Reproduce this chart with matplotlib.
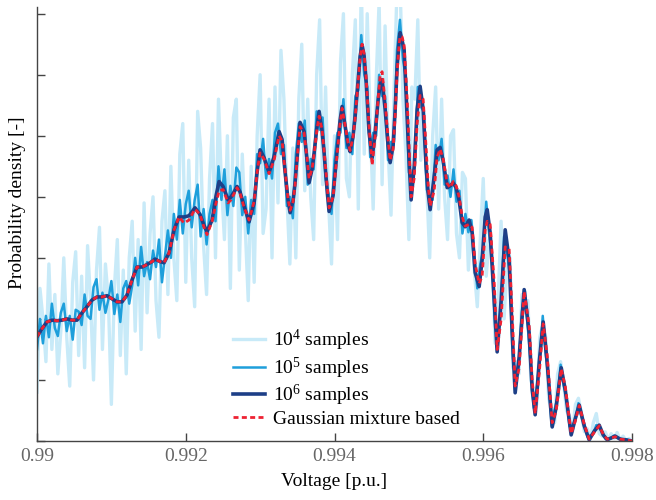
import matplotlib
matplotlib.use("Agg")
import matplotlib.pyplot as plt
import numpy as np

plt.rcParams['font.family'] = ['Liberation Serif', 'DejaVu Serif']
plt.rcParams['mathtext.fontset'] = 'custom'
plt.rcParams['mathtext.rm'] = 'Liberation Serif'

# voltage grid of the sampled histograms
volt_grid = np.linspace(0.99, 0.998, 201)

# 10^4 samples
dens_1e4 = [80, 250, 200, 130, 290, 150, 240, 110, 180, 300,
            170, 90, 260, 310, 140, 270, 120, 320, 230, 100,
            280, 350, 150, 290, 230, 60, 250, 330, 140, 280,
            110, 300, 360, 180, 330, 150, 390, 210, 340, 400,
            230, 170, 360, 410, 240, 450, 300, 230, 470, 520,
            260, 460, 300, 220, 540, 480, 320, 240, 430, 520,
            300, 560, 420, 330, 500, 250, 530, 560, 280, 470,
            350, 230, 450, 260, 500, 600, 340, 380, 560, 300,
            580, 390, 640, 560, 400, 290, 480, 300, 560, 650,
            410, 560, 400, 330, 600, 690, 420, 580, 390, 290,
            500, 330, 620, 700, 430, 400, 600, 690, 380, 760,
            470, 700, 520, 380, 590, 720, 420, 680, 480, 370,
            570, 740, 760, 560, 470, 330, 580, 560, 690, 460,
            540, 420, 300, 500, 580, 380, 560, 400, 330, 500,
            510, 340, 300, 440, 430, 280, 360, 280, 220, 330,
            430, 270, 330, 300, 160, 230, 360, 200, 290, 300,
            120, 130, 110, 240, 210, 230, 100, 80, 60, 170,
            190, 170, 70, 45, 30, 110, 130, 95, 50, 40,
            15, 60, 70, 45, 15, 20, 3, 30, 45, 12,
            8, 15, 2, 12, 4, 14, 2, 8, 1, 4,
            0]

# 10^5 samples
dens_1e5 = [150, 200, 160, 205, 170, 225, 185, 172, 210, 225,
            180, 205, 166, 215, 212, 190, 240, 205, 200, 252,
            265, 215, 243, 210, 232, 262, 208, 240, 195, 250,
            262, 225, 255, 300, 255, 318, 270, 293, 265, 312,
            285, 330, 260, 302, 345, 300, 372, 330, 395, 340,
            388, 410, 350, 395, 420, 335, 380, 322, 372, 395,
            360, 450, 395, 445, 370, 418, 385, 448, 440, 370,
            400, 340, 395, 372, 470, 455, 495, 430, 462, 430,
            505, 520, 470, 485, 385, 400, 365, 470, 520, 490,
            525, 420, 462, 445, 540, 510, 530, 430, 405, 372,
            460, 505, 505, 560, 480, 505, 470, 565, 575, 665,
            600, 580, 465, 505, 500, 600, 565, 565, 460, 490,
            490, 640, 690, 625, 595, 440, 430, 450, 580, 548,
            540, 412, 400, 395, 485, 460, 495, 420, 435, 400,
            445, 392, 410, 340, 372, 342, 362, 305, 250, 290,
            312, 392, 338, 295, 185, 178, 222, 335, 308, 270,
            135, 102, 130, 212, 246, 185, 124, 54, 88, 135,
            205, 143, 98, 25, 52, 72, 125, 92, 70, 24,
            25, 35, 62, 40, 27, 7, 9, 12, 26, 22,
            15, 4, 4, 4, 9, 5, 4, 2, 3, 1,
            0]

# 10^6 samples and Gaussian mixture, smooth curves
volt_smooth = [0.990000, 0.990067, 0.990134, 0.990202, 0.990269, 0.990336, 0.990403, 0.990471, 0.990538, 0.990605,
               0.990672, 0.990740, 0.990807, 0.990874, 0.990941, 0.991009, 0.991076, 0.991143, 0.991210, 0.991278,
               0.991345, 0.991412, 0.991479, 0.991547, 0.991587, 0.991654, 0.991708, 0.991775, 0.991843, 0.991910,
               0.991977, 0.992044, 0.992125, 0.992192, 0.992246, 0.992286, 0.992354, 0.992408, 0.992448, 0.992502,
               0.992569, 0.992609, 0.992650, 0.992690, 0.992730, 0.992784, 0.992851, 0.992919, 0.992959, 0.992999,
               0.993053, 0.993120, 0.993188, 0.993255, 0.993295, 0.993336, 0.993376, 0.993403, 0.993443, 0.993470,
               0.993510, 0.993537, 0.993591, 0.993632, 0.993658, 0.993699, 0.993726, 0.993766, 0.993793, 0.993833,
               0.993860, 0.993901, 0.993927, 0.993981, 0.994035, 0.994075, 0.994102, 0.994143, 0.994183, 0.994210,
               0.994250, 0.994277, 0.994317, 0.994344, 0.994371, 0.994398, 0.994425, 0.994465, 0.994506, 0.994546,
               0.994586, 0.994613, 0.994640, 0.994681, 0.994721, 0.994748, 0.994788, 0.994815, 0.994842, 0.994869,
               0.994882, 0.994909, 0.994936, 0.994977, 0.995003, 0.995030, 0.995071, 0.995111, 0.995151, 0.995192,
               0.995232, 0.995259, 0.995286, 0.995340, 0.995380, 0.995420, 0.995461, 0.995515, 0.995555, 0.995595,
               0.995636, 0.995676, 0.995716, 0.995757, 0.995810, 0.995851, 0.995891, 0.995945, 0.995985, 0.996026,
               0.996053, 0.996093, 0.996147, 0.996187, 0.996241, 0.996295, 0.996348, 0.996389, 0.996429, 0.996483,
               0.996550, 0.996617, 0.996658, 0.996698, 0.996752, 0.996806, 0.996860, 0.996927, 0.996981, 0.997048,
               0.997102, 0.997182, 0.997236, 0.997290, 0.997357, 0.997424, 0.997492, 0.997559, 0.997613, 0.997666,
               0.997720, 0.997774, 0.997841, 0.997909, 0.998000]

dens_1e6 = [171, 184, 195, 198, 197, 198, 200, 198, 198, 210,
            220, 231, 236, 236, 238, 233, 228, 228, 239, 264,
            285, 285, 289, 294, 298, 294, 292, 308, 346, 367,
            367, 369, 382, 371, 353, 343, 362, 402, 425, 417,
            395, 400, 408, 417, 408, 385, 359, 390, 440, 477,
            464, 440, 466, 507, 494, 440, 394, 374, 394, 423,
            484, 522, 507, 459, 423, 446, 472, 517, 540, 508,
            472, 410, 376, 402, 476, 525, 548, 515, 484, 474,
            500, 531, 590, 630, 649, 631, 590, 505, 464, 505,
            558, 584, 592, 543, 484, 456, 484, 541, 613, 656,
            669, 656, 641, 531, 459, 395, 449, 543, 581, 543,
            449, 407, 379, 433, 477, 481, 459, 415, 418, 423,
            415, 394, 358, 351, 362, 341, 276, 253, 297, 367,
            379, 341, 231, 146, 231, 346, 297, 177, 79, 138,
            248, 177, 84, 43, 128, 195, 128, 23, 56, 120,
            84, 10, 36, 59, 25, 2, 16, 26, 10, 2,
            5, 8, 3, 2, 0]

dens_gmm = [171, 184, 195, 198, 197, 198, 200, 198, 198, 210,
            220, 231, 236, 236, 238, 233, 228, 228, 239, 264,
            285, 285, 289, 294, 298, 294, 292, 308, 346, 367,
            357, 362, 380, 371, 350, 338, 360, 390, 410, 412,
            390, 395, 405, 415, 406, 383, 362, 392, 440, 472,
            462, 438, 460, 500, 492, 442, 396, 378, 392, 420,
            480, 515, 505, 462, 430, 446, 470, 512, 532, 510,
            476, 418, 382, 400, 470, 520, 545, 517, 488, 476,
            498, 528, 588, 628, 650, 634, 596, 515, 452, 498,
            560, 598, 605, 556, 494, 460, 478, 532, 605, 650,
            663, 662, 648, 560, 480, 400, 430, 520, 566, 560,
            480, 420, 385, 410, 465, 478, 462, 422, 415, 425,
            418, 400, 368, 352, 355, 350, 290, 258, 270, 345,
            360, 355, 260, 150, 200, 318, 315, 210, 90, 120,
            245, 190, 100, 45, 110, 192, 140, 30, 50, 118,
            90, 12, 32, 58, 28, 3, 14, 25, 11, 3,
            5, 7, 3, 2, 0]

labels = [r'$\mathregular{10^4}$ samples', r'$\mathregular{10^5}$ samples',
          r'$\mathregular{10^6}$ samples', 'Gaussian mixture based']

fig = plt.figure(figsize=(6.56, 5.0), dpi=100)
ax = fig.add_axes([37 / 656, 1 - 441 / 500, 595 / 656, 434 / 500])

ax.plot(volt_grid, dens_1e4, color='#c8eaf8', lw=2.4, label=labels[0])
ax.plot(volt_grid, dens_1e5, color='#1e9fdb', lw=1.8, label=labels[1])
ax.plot(volt_smooth, dens_1e6, color='#1d3f87', lw=2.6, label=labels[2])
ax.plot(volt_smooth, dens_gmm, color='#ee2233', lw=2.0, dashes=(1.8, 1.2), label=labels[3])

ax.set_xlim(0.99, 0.998)
ax.set_ylim(0, 711)
ax.set_xticks([0.99, 0.992, 0.994, 0.996, 0.998])
ax.set_xticklabels(['0.99', '0.992', '0.994', '0.996', '0.998'])
ax.set_yticks(np.arange(0, 701, 100))
ax.set_yticklabels([])

for side in ['top', 'right']:
    ax.spines[side].set_visible(False)
for side in ['left', 'bottom']:
    ax.spines[side].set_color('#444444')
    ax.spines[side].set_linewidth(1.0)
ax.tick_params(direction='in', length=6, width=1, color='#444444',
               labelsize=14, labelcolor='#666666', pad=5)

ax.set_xlabel('Voltage [p.u.]', fontsize=14, labelpad=6)
ax.set_ylabel('Probability density [-]', fontsize=14)
ax.yaxis.set_label_coords(-0.018, 0.55)

ax.legend(loc='lower left', bbox_to_anchor=(0.329, 0.03), frameon=False, fontsize=14,
          handlelength=1.65, handletextpad=0.4, labelspacing=0.12, borderpad=0,
          borderaxespad=0)

fig.savefig('out.png', dpi=100)
